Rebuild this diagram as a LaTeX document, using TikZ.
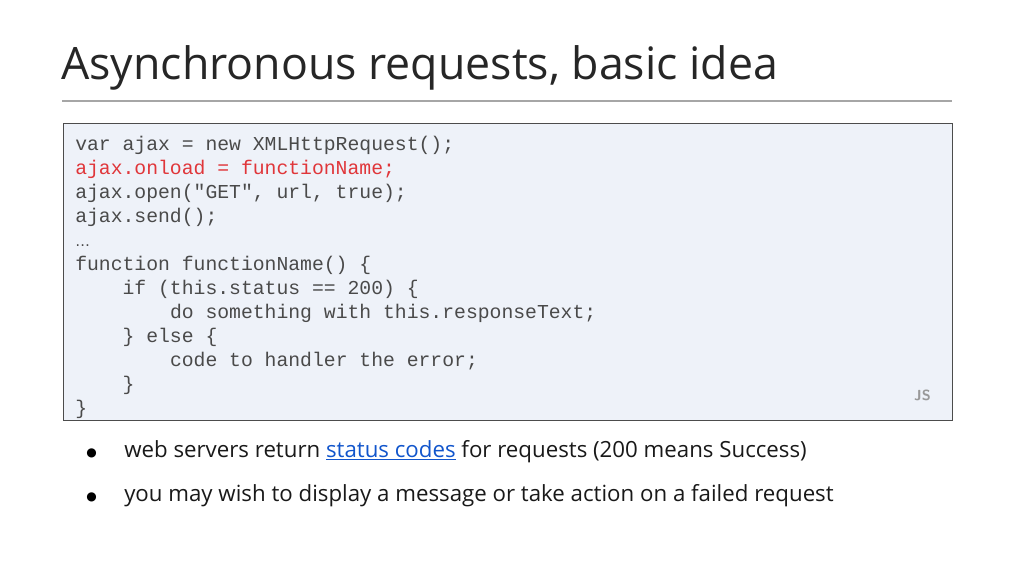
\documentclass[tikz,border=0pt]{standalone}
\usepackage{fontspec}
\setmainfont{Open Sans}
\setmonofont{Liberation Mono}
\newfontfamily\symf{DejaVu Sans}
\definecolor{codefg}{HTML}{4A4A4A}
\definecolor{codered}{HTML}{E0363A}
\definecolor{boxbg}{HTML}{EEF2F9}
\definecolor{linkc}{HTML}{1155CC}
\begin{document}
\begin{tikzpicture}[x=0.75pt,y=-0.75pt,
  code/.style={anchor=base west,inner sep=0,font=\ttfamily\fontsize{14.8}{16}\selectfont,text=codefg},
  bul/.style={anchor=base west,inner sep=0,font=\fontsize{16.7}{20}\selectfont,text=black!90}]
\useasboundingbox[fill=white] (0,0) rectangle (1024,576);
\node[anchor=base west,inner sep=0,font=\fontsize{33.5}{40}\selectfont,text=black!85] (title) at (61,79) {Asynchronous requests, basic idea};
\draw[gray!70,line width=0.8pt] (62,101) -- (952,101);
\node[draw=black!70,fill=boxbg,line width=0.8pt,minimum width=889*0.75pt,minimum height=297*0.75pt,anchor=north west,inner sep=0] (box) at (63,123) {};
\foreach \i/\t in {0/{var ajax = new XMLHttpRequest();},
  2/{ajax.open("GET", url, true);},3/{ajax.send();},
  5/{function functionName() \{},6/{\ \ \ \ if (this.status == 200) \{},
  7/{\ \ \ \ \ \ \ \ do something with this.responseText;},8/{\ \ \ \ \} else \{},
  9/{\ \ \ \ \ \ \ \ code to handler the error;},10/{\ \ \ \ \}},11/{\}}}
  \node[code] (c\i) at (75,150+24*\i) {\t};
\node[code,text=codered] (c1) at (75,174) {ajax.onload = functionName;};
\node[code] (c4) at (75,246) {\symf\fontsize{11}{14}\selectfont …};
\node[anchor=base east,inner sep=0,font=\sffamily\bfseries\fontsize{11}{12}\selectfont,text=black!40] (js) at (931,400) {JS};
\node[anchor=base west,inner sep=0,font=\symf\fontsize{9}{12}\selectfont] (b1) at (86,456) {●};
\node[anchor=base west,inner sep=0,font=\symf\fontsize{9}{12}\selectfont] (b2) at (86,500) {●};
\node[bul] (t1) at (124,457) {web servers return \textcolor{linkc}{\underline{status codes}} for requests (200 means Success)};
\node[bul] (t2) at (124,501) {you may wish to display a message or take action on a failed request};
\end{tikzpicture}
\end{document}
